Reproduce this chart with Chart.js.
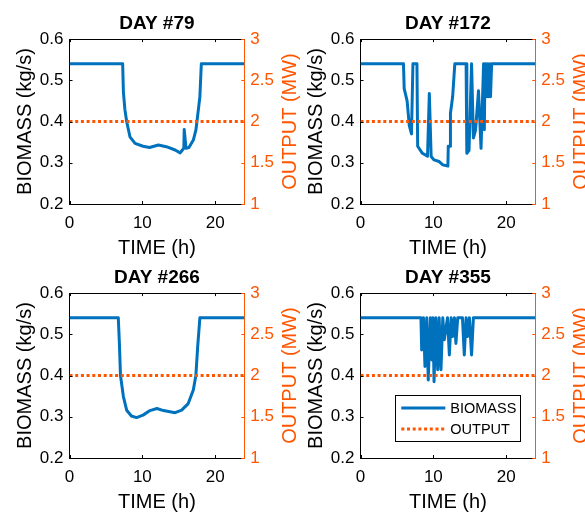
<!DOCTYPE html>
<html>
<head>
<meta charset="utf-8">
<script src="https://cdn.jsdelivr.net/npm/chart.js@4"></script>
<style>
  body { margin: 0; background: #fff; }
  #wrap { position: relative; width: 585px; height: 514px; overflow: hidden; }
  canvas { position: absolute; }
</style>
</head>
<body>
<div id="wrap">
  <canvas id="c79" width="300" height="260" style="left:0;top:0"></canvas>
  <canvas id="c172" width="294" height="260" style="left:291px;top:0"></canvas>
  <canvas id="c266" width="300" height="260" style="left:0;top:254px"></canvas>
  <canvas id="c355" width="294" height="260" style="left:291px;top:254px"></canvas>
</div>
<script>
// ---- data ----
const dayTitles = ['DAY #79', 'DAY #172', 'DAY #266', 'DAY #355'];
const seriesNames = ['BIOMASS', 'OUTPUT'];

const timeTicks = [0, 10, 20];
const biomassTicks = [0.2, 0.3, 0.4, 0.5, 0.6];
const outputTicks = [1, 1.5, 2, 2.5, 3];

const outputTime = [0, 24];
const outputMW = [2, 2];

const day79Time = [0, 7.3, 7.4, 7.6, 7.85, 8.3, 9.0, 10.1, 11.0, 12.2, 13.3, 14.5, 15.2, 15.5, 15.7, 15.75, 16.0, 16.4, 17.0, 17.35, 17.5, 17.9, 18.1, 24];
const day79Biomass = [0.54, 0.54, 0.472, 0.43, 0.40, 0.363, 0.347, 0.340, 0.337, 0.343, 0.339, 0.331, 0.324, 0.331, 0.335, 0.381, 0.335, 0.337, 0.355, 0.379, 0.40, 0.46, 0.54, 0.54];

const day172Time = [0, 5.9, 6.0, 6.4, 6.7, 7.0, 7.2, 7.75, 7.85, 8.5, 9.2, 9.45, 9.7, 10.1, 10.8, 11.3, 12.0, 12.05, 12.3, 12.35, 12.65, 12.95, 14.5, 14.6, 14.9, 15.25, 15.5, 15.8, 16.2, 16.55, 16.9, 17.0, 17.1, 17.25, 17.4, 17.55, 17.7, 17.85, 18.0, 18.3, 24];
const day172Biomass = [0.54, 0.54, 0.48, 0.45, 0.39, 0.37, 0.54, 0.54, 0.34, 0.323, 0.316, 0.468, 0.315, 0.307, 0.303, 0.295, 0.292, 0.34, 0.34, 0.42, 0.46, 0.54, 0.54, 0.323, 0.33, 0.54, 0.36, 0.38, 0.475, 0.335, 0.54, 0.38, 0.54, 0.46, 0.54, 0.46, 0.54, 0.46, 0.54, 0.54, 0.54];

const day266Time = [0, 6.7, 6.85, 7.0, 7.4, 7.85, 8.5, 9.2, 10.1, 11.05, 12.0, 12.9, 14.5, 15.4, 16.3, 17.0, 17.35, 17.6, 17.9, 24];
const day266Biomass = [0.54, 0.54, 0.478, 0.40, 0.349, 0.316, 0.302, 0.298, 0.304, 0.315, 0.32, 0.315, 0.31, 0.316, 0.332, 0.365, 0.40, 0.47, 0.54, 0.54];

const day355Time = [0, 8.3, 8.4, 8.65, 8.85, 9.1, 9.3, 9.6, 9.8, 9.95, 10.1, 10.35, 10.6, 10.8, 11.05, 11.3, 11.5, 11.95, 12.2, 12.45, 12.65, 12.9, 13.1, 13.35, 14.0, 14.25, 14.5, 14.7, 14.95, 15.25, 15.5, 24];
const day355Biomass = [0.54, 0.54, 0.462, 0.54, 0.422, 0.54, 0.389, 0.54, 0.438, 0.54, 0.385, 0.54, 0.414, 0.54, 0.414, 0.54, 0.487, 0.54, 0.45, 0.54, 0.495, 0.54, 0.478, 0.54, 0.54, 0.45, 0.54, 0.495, 0.54, 0.45, 0.54, 0.54];

// ---- styling / layout ----
const BLUE = '#0072bd';
const ORANGE = '#ff5500';
const FONT = "'Liberation Sans', Arial, sans-serif";
Chart.defaults.font.family = FONT;
Chart.defaults.color = '#000';

// plot box inside each canvas: left axis width, x axis height
const box = { left: 69.5, bottom: 56 };

const innerTicks = {
  id: 'innerTicks',
  afterDraw(chart, args, opts) {
    const { ctx, chartArea: a, scales } = chart;
    const t = 3;
    ctx.save();
    ctx.lineWidth = 1;
    ctx.strokeStyle = '#000';
    ctx.beginPath();
    ctx.moveTo(a.left, Math.round(a.top) + 0.5);
    ctx.lineTo(a.right, Math.round(a.top) + 0.5);
    timeTicks.forEach(v => {
      const px = Math.round(scales.x.getPixelForValue(v)) + 0.5;
      ctx.moveTo(px, a.bottom); ctx.lineTo(px, a.bottom - t);
      ctx.moveTo(px, a.top); ctx.lineTo(px, a.top + t);
    });
    biomassTicks.forEach(v => {
      const py = Math.round(scales.y.getPixelForValue(v)) + 0.5;
      ctx.moveTo(a.left, py); ctx.lineTo(a.left + t, py);
    });
    ctx.stroke();
    ctx.strokeStyle = ORANGE;
    ctx.beginPath();
    outputTicks.forEach(v => {
      const py = Math.round(scales.y2.getPixelForValue(v)) + 0.5;
      ctx.moveTo(a.right, py); ctx.lineTo(a.right - t, py);
    });
    ctx.stroke();

    // right axis title, reading bottom to top
    ctx.translate(a.right + 46, (a.top + a.bottom) / 2);
    ctx.rotate(-Math.PI / 2);
    ctx.fillStyle = ORANGE;
    ctx.font = '20px ' + FONT;
    ctx.textAlign = 'center';
    ctx.textBaseline = 'middle';
    ctx.fillText('OUTPUT (MW)', 0, 0);
    ctx.restore();

    if (opts.legend) {
      const w = 125, h = 46;
      const x0 = a.right - 15 - w, y0 = a.bottom - 17 - h;
      ctx.save();
      ctx.fillStyle = '#fff';
      ctx.fillRect(x0, y0, w, h);
      ctx.strokeStyle = '#000';
      ctx.lineWidth = 1;
      ctx.strokeRect(Math.round(x0) + 0.5, Math.round(y0) + 0.5, w, h);
      const ds = chart.data.datasets;
      ds.forEach((d, i) => {
        const yy = y0 + 13 + i * 21;
        ctx.beginPath();
        ctx.strokeStyle = d.borderColor;
        ctx.lineWidth = 3;
        ctx.setLineDash(d.borderDash || []);
        ctx.moveTo(x0 + 6, yy); ctx.lineTo(x0 + 50, yy);
        ctx.stroke();
        ctx.setLineDash([]);
        ctx.fillStyle = '#000';
        ctx.font = '14.5px ' + FONT;
        ctx.textBaseline = 'middle';
        ctx.fillText(d.label, x0 + 55, yy + 1);
      });
      ctx.restore();
    }
  }
};

function toPoints(xs, ys) {
  return xs.map((x, i) => ({ x: x, y: ys[i] }));
}

function makeChart(id, title, time, biomass, withLegend) {
  return new Chart(document.getElementById(id), {
    type: 'line',
    data: {
      datasets: [{
        label: seriesNames[0],
        data: toPoints(time, biomass),
        yAxisID: 'y',
        borderColor: BLUE,
        borderWidth: 3,
        pointRadius: 0,
        tension: 0,
        borderJoinStyle: 'round',
        order: 1
      }, {
        label: seriesNames[1],
        data: toPoints(outputTime, outputMW),
        yAxisID: 'y2',
        borderColor: ORANGE,
        borderWidth: 3,
        borderDash: [3, 2.7],
        pointRadius: 0,
        order: 0
      }]
    },
    options: {
      responsive: false,
      animation: false,
      layout: { padding: 0 },
      plugins: {
        legend: { display: false },
        tooltip: { enabled: false },
        title: {
          display: true,
          fullSize: false,
          text: title,
          color: '#000',
          font: { size: 19, weight: 'bold', lineHeight: 1.2 },
          padding: { top: 12.3, bottom: 4 }
        },
        innerTicks: { legend: withLegend }
      },
      scales: {
        x: {
          type: 'linear',
          min: 0,
          max: 24,
          grid: { display: false, drawTicks: false },
          border: { display: true, color: '#000', width: 1 },
          afterBuildTicks: s => { s.ticks = timeTicks.map(v => ({ value: v })); },
          afterFit: s => { s.height = box.bottom; },
          ticks: { color: '#000', font: { size: 17 }, padding: 9, maxRotation: 0 },
          title: { display: true, text: 'TIME (h)', color: '#000', font: { size: 20 }, padding: { top: 0, bottom: 0 } }
        },
        y: {
          type: 'linear',
          position: 'left',
          min: 0.2,
          max: 0.6,
          grid: { display: false, drawTicks: false },
          border: { display: true, color: '#000', width: 1 },
          afterBuildTicks: s => { s.ticks = biomassTicks.map(v => ({ value: v })); },
          afterFit: s => { s.width = box.left; },
          ticks: { color: '#000', font: { size: 17 }, padding: 6, callback: v => v.toFixed(1) },
          title: { display: true, text: 'BIOMASS (kg/s)', color: '#000', font: { size: 20 }, padding: { top: 13, bottom: 0 } }
        },
        y2: {
          type: 'linear',
          position: 'right',
          min: 1,
          max: 3,
          grid: { display: false, drawTicks: false },
          border: { display: true, color: ORANGE, width: 1 },
          afterBuildTicks: s => { s.ticks = outputTicks.map(v => ({ value: v })); },
          afterFit: s => { s.width = s.chart.width - 244.3; },
          ticks: { color: ORANGE, font: { size: 17 }, padding: 6, callback: v => String(v) }
        }
      }
    },
    plugins: [innerTicks]
  });
}

makeChart('c79', dayTitles[0], day79Time, day79Biomass, false);
makeChart('c172', dayTitles[1], day172Time, day172Biomass, false);
makeChart('c266', dayTitles[2], day266Time, day266Biomass, false);
makeChart('c355', dayTitles[3], day355Time, day355Biomass, true);
</script>
</body>
</html>
